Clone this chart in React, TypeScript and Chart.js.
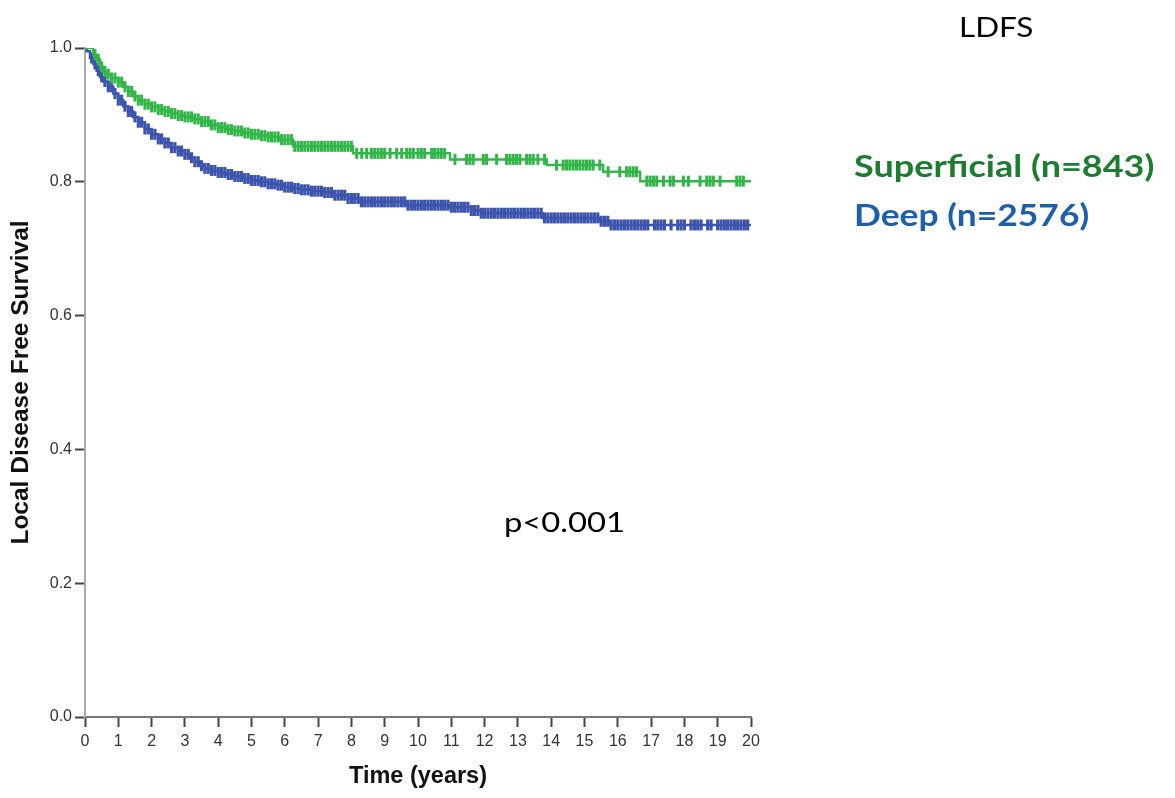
import { useEffect, useRef } from "react";
import { Chart, registerables } from "chart.js";

Chart.register(...registerables);

// ---- Data ----
const xTickValues = [0, 1, 2, 3, 4, 5, 6, 7, 8, 9, 10, 11, 12, 13, 14, 15, 16, 17, 18, 19, 20];
const yTickLabels = ["0.0", "0.2", "0.4", "0.6", "0.8", "1.0"];

// Superficial (n=843) Kaplan-Meier steps
const superficialTimes = [0, 0.25, 0.35, 0.45, 0.55, 0.65, 0.8, 1.0, 1.15, 1.3, 1.45, 1.6, 1.8, 2.0, 2.2, 2.4, 2.6, 2.8, 3.0, 3.25, 3.5, 3.75, 4.0, 4.25, 4.5, 4.75, 5.0, 5.25, 5.5, 5.86, 6.25, 8.05, 10.96, 13.87, 15.56, 16.67, 20];
const superficialSurv = [1.0, 0.99, 0.983, 0.972, 0.965, 0.961, 0.955, 0.949, 0.942, 0.935, 0.928, 0.922, 0.916, 0.912, 0.908, 0.905, 0.902, 0.899, 0.897, 0.894, 0.89, 0.885, 0.881, 0.878, 0.876, 0.873, 0.871, 0.869, 0.867, 0.863, 0.853, 0.8425, 0.8335, 0.825, 0.815, 0.801, 0.801];

// Deep (n=2576) Kaplan-Meier steps
const deepTimes = [0, 0.05, 0.15, 0.25, 0.35, 0.45, 0.55, 0.7, 0.85, 1.0, 1.15, 1.3, 1.45, 1.6, 1.8, 2.0, 2.2, 2.4, 2.6, 2.8, 3.0, 3.15, 3.3, 3.45, 3.6, 3.8, 4.0, 4.25, 4.5, 4.75, 5.0, 5.25, 5.5, 5.75, 6.0, 6.25, 6.5, 6.8, 7.15, 7.5, 7.9, 8.26, 9.67, 10.96, 11.6, 11.9, 13.75, 15.47, 15.77, 20];
const deepSurv = [1.0, 0.995, 0.985, 0.976, 0.966, 0.957, 0.95, 0.942, 0.932, 0.922, 0.913, 0.905, 0.897, 0.889, 0.879, 0.871, 0.864, 0.858, 0.851, 0.846, 0.841, 0.836, 0.83, 0.824, 0.82, 0.817, 0.814, 0.811, 0.808, 0.805, 0.802, 0.8, 0.797, 0.795, 0.792, 0.79, 0.788, 0.786, 0.784, 0.78, 0.775, 0.77, 0.765, 0.762, 0.757, 0.753, 0.746, 0.741, 0.7355, 0.7355];

// Censoring times (tick marks)
const superficialCensorTimes = [
  0.3, 0.4, 0.5, 0.6, 0.7, 0.8, 0.9,
  1.0, 1.1, 1.2, 1.3, 1.4, 1.5, 1.6, 1.7, 1.8, 1.9,
  2.0, 2.1, 2.2, 2.3, 2.4, 2.5, 2.6, 2.7, 2.8, 2.9,
  3.0, 3.1, 3.2, 3.3, 3.4, 3.5, 3.6, 3.7, 3.8, 3.9,
  4.0, 4.1, 4.2, 4.3, 4.4, 4.5, 4.6, 4.7, 4.8, 4.9,
  5.0, 5.1, 5.2, 5.3, 5.4, 5.5, 5.6, 5.7, 5.8, 5.9,
  6.0, 6.1, 6.2, 6.3, 6.4, 6.5, 6.6, 6.7, 6.8, 6.9,
  7.0, 7.1, 7.2, 7.3, 7.4, 7.5, 7.6, 7.7, 7.8, 7.9, 8.0,
  8.16, 8.31, 8.46, 8.6, 8.7, 8.8, 8.9, 9.0, 9.16, 9.36, 9.51, 9.66, 9.76, 9.86,
  10.0, 10.1, 10.2, 10.41, 10.5, 10.6, 10.7, 10.8, 11.11, 11.46, 11.56, 11.66, 11.96, 12.06,
  12.36, 12.66, 12.76, 12.86, 12.96, 13.06, 13.26, 13.36, 13.46, 13.6, 13.8,
  14.16, 14.36, 14.46, 14.56, 14.66, 14.76, 14.86, 14.96, 15.06, 15.16, 15.26, 15.46,
  15.71, 16.06, 16.26, 16.36, 16.46, 16.56, 16.87, 16.97, 17.07, 17.17, 17.37, 17.57, 17.67,
  17.97, 18.12, 18.47, 18.67, 18.77, 18.87, 19.07, 19.57, 19.67, 19.77,
];

const deepCensorTimes = [
  0.2, 0.3, 0.4, 0.5, 0.6, 0.7, 0.8, 0.9,
  1.0, 1.1, 1.2, 1.3, 1.4, 1.5, 1.6, 1.7, 1.8, 1.9,
  2.0, 2.1, 2.2, 2.3, 2.4, 2.5, 2.6, 2.7, 2.8, 2.9,
  3.0, 3.1, 3.2, 3.3, 3.4, 3.5, 3.6, 3.7, 3.8, 3.9,
  4.0, 4.1, 4.2, 4.3, 4.4, 4.5, 4.6, 4.7, 4.8, 4.9,
  5.0, 5.1, 5.2, 5.3, 5.4, 5.5, 5.6, 5.7, 5.8, 5.9,
  6.0, 6.1, 6.2, 6.3, 6.4, 6.5, 6.6, 6.7, 6.8, 6.9,
  7.0, 7.1, 7.2, 7.3, 7.4, 7.5, 7.6, 7.7, 7.8, 7.9,
  8.0, 8.1, 8.2, 8.3, 8.4, 8.5, 8.6, 8.7, 8.8, 8.9,
  9.0, 9.1, 9.2, 9.3, 9.4, 9.5, 9.6, 9.7, 9.8, 9.9,
  10.0, 10.1, 10.2, 10.3, 10.4, 10.5, 10.6, 10.7, 10.8, 10.9,
  11.0, 11.1, 11.2, 11.3, 11.4, 11.5, 11.6, 11.7, 11.8, 11.9,
  12.0, 12.1, 12.2, 12.3, 12.4, 12.5, 12.6, 12.7, 12.8, 12.9,
  13.0, 13.1, 13.2, 13.3, 13.4, 13.5, 13.6, 13.7, 13.8, 13.9,
  14.0, 14.1, 14.2, 14.3, 14.4, 14.5, 14.6, 14.7, 14.8, 14.9,
  15.0, 15.1, 15.2, 15.3, 15.4, 15.5, 15.6, 15.7, 15.8, 15.9,
  16.0, 16.1, 16.2, 16.3, 16.4, 16.5, 16.6, 16.7, 16.8, 16.9,
  17.1, 17.2, 17.3, 17.4, 17.6, 17.8, 17.9, 18.0, 18.2, 18.3, 18.4, 18.5,
  18.7, 18.8, 19.0, 19.1, 19.2, 19.3, 19.4, 19.5, 19.6, 19.7, 19.8, 19.9,
];

const titleText = "LDFS";
const superficialLabel = "Superficial (n=843)";
const deepLabel = "Deep (n=2576)";
const pValueText = "p<0.001";

// ---- Styles ----
const GREEN_LINE = "rgb(50,182,72)";
const BLUE_LINE = "rgb(60,84,172)";
const GREEN_TEXT = "rgb(28,124,48)";
const BLUE_TEXT = "rgb(28,96,172)";

function stepValue(times: number[], values: number[], t: number): number {
  let v = values[0];
  for (let i = 0; i < times.length; i++) {
    if (times[i] <= t) v = values[i];
    else break;
  }
  return v;
}

function curvePoints(times: number[], values: number[]) {
  return times.map((t, i) => ({ x: t, y: values[i] }));
}

function censorPoints(censor: number[], times: number[], values: number[]) {
  return censor.map((t) => ({ x: t, y: stepValue(times, values, t) }));
}

export default function App() {
  const canvasRef = useRef<HTMLCanvasElement>(null);

  useEffect(() => {
    const canvas = canvasRef.current;
    if (!canvas) return;
    const chart = new Chart(canvas, {
      type: "scatter",
      data: {
        datasets: [
          {
            type: "line",
            label: superficialLabel,
            data: curvePoints(superficialTimes, superficialSurv),
            borderColor: GREEN_LINE,
            borderWidth: 2.5,
            stepped: true,
            pointRadius: 0,
            fill: false,
            order: 1,
          } as any,
          {
            type: "scatter",
            label: superficialLabel + " censored",
            data: censorPoints(superficialCensorTimes, superficialTimes, superficialSurv),
            pointStyle: "line",
            rotation: 90,
            pointRadius: 5.5,
            borderWidth: 3,
            borderColor: GREEN_LINE,
            backgroundColor: GREEN_LINE,
            order: 1,
          } as any,
          {
            type: "line",
            label: deepLabel,
            data: curvePoints(deepTimes, deepSurv),
            borderColor: BLUE_LINE,
            borderWidth: 2.5,
            stepped: true,
            pointRadius: 0,
            fill: false,
            order: 2,
          } as any,
          {
            type: "scatter",
            label: deepLabel + " censored",
            data: censorPoints(deepCensorTimes, deepTimes, deepSurv),
            pointStyle: "line",
            rotation: 90,
            pointRadius: 5.5,
            borderWidth: 3.2,
            borderColor: BLUE_LINE,
            backgroundColor: BLUE_LINE,
            order: 2,
          } as any,
        ],
      },
      options: {
        responsive: false,
        maintainAspectRatio: false,
        devicePixelRatio: 1,
        animation: false,
        layout: { padding: { left: 4, right: 424, top: 48, bottom: 4 } },
        plugins: {
          legend: { display: false },
          tooltip: { enabled: false },
        },
        scales: {
          x: {
            type: "linear",
            min: 0,
            max: 20,
            afterFit: (scale: any) => {
              scale.height = 77;
            },
            afterBuildTicks: (scale: any) => {
              scale.ticks = xTickValues.map((v) => ({ value: v }));
            },
            ticks: {
              autoSkip: false,
              maxRotation: 0,
              padding: 5,
              color: "#333",
              font: { family: "'Liberation Sans', Arial, sans-serif", size: 16 },
              callback: (v: any) => String(v),
            },
            grid: {
              drawOnChartArea: false,
              drawTicks: true,
              tickLength: 10,
              tickWidth: 2,
              tickColor: "#444",
            },
            border: { display: true, color: "#777", width: 2 },
            title: {
              display: true,
              text: "Time (years)",
              color: "#111",
              font: { family: "'Liberation Sans', Arial, sans-serif", size: 23.5, weight: "bold" },
              padding: { top: 0, bottom: 3 },
            },
          },
          y: {
            type: "linear",
            min: 0,
            max: 1,
            afterFit: (scale: any) => {
              scale.width = 81;
            },
            afterBuildTicks: (scale: any) => {
              scale.ticks = yTickLabels.map((s) => ({ value: parseFloat(s) }));
            },
            ticks: {
              autoSkip: false,
              padding: 3,
              color: "#333",
              font: { family: "'Liberation Sans', Arial, sans-serif", size: 16 },
              callback: (v: any) => yTickLabels[Math.round(Number(v) * 5)] ?? String(v),
            },
            grid: {
              drawOnChartArea: false,
              drawTicks: true,
              tickLength: 10,
              tickWidth: 2,
              tickColor: "#444",
            },
            border: { display: true, color: "#aaa", width: 2 },
            title: {
              display: true,
              text: "Local Disease Free Survival",
              color: "#111",
              font: { family: "'Liberation Sans', Arial, sans-serif", size: 24.5, weight: "bold" },
              padding: { top: 3, bottom: 0 },
            },
          },
        },
      },
    } as any);
    return () => chart.destroy();
  }, []);

  const textBase: React.CSSProperties = {
    position: "absolute",
    whiteSpace: "nowrap",
    lineHeight: 1,
    fontFamily: "Lato, 'Open Sans', sans-serif",
    transformOrigin: "0 50%",
  };

  return (
    <div style={{ position: "fixed", left: 0, top: 0, width: 1175, height: 798, background: "#fff", overflow: "hidden" }}>
      <canvas
        ref={canvasRef}
        width={1175}
        height={798}
        style={{ position: "absolute", left: 0, top: 0, width: 1175, height: 798 }}
      />
      <div style={{ ...textBase, left: 959, top: 14, fontSize: 26, color: "#000", transform: "scaleX(1.21)" }}>{titleText}</div>
      <div style={{ ...textBase, left: 854, top: 150, fontSize: 30, fontWeight: 700, color: GREEN_TEXT, transform: "scaleX(1.2)" }}>{superficialLabel}</div>
      <div style={{ ...textBase, left: 854, top: 199, fontSize: 30, fontWeight: 700, color: BLUE_TEXT, transform: "scaleX(1.18)" }}>{deepLabel}</div>
      <div style={{ ...textBase, left: 504, top: 509, fontSize: 26, color: "#000", transform: "scaleX(1.26)" }}>{pValueText}</div>
    </div>
  );
}
